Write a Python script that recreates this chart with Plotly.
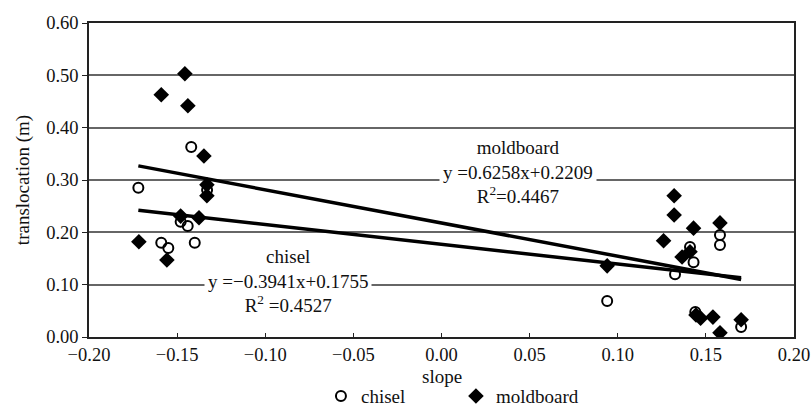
import plotly.graph_objects as go

# ---- data ----
chisel_x = [-0.172, -0.159, -0.155, -0.148, -0.144, -0.142, -0.140, -0.133,
            0.094, 0.1325, 0.141, 0.143, 0.158, 0.158, 0.144, 0.170]
chisel_y = [0.285, 0.180, 0.170, 0.220, 0.212, 0.363, 0.180, 0.281,
            0.069, 0.120, 0.172, 0.143, 0.195, 0.176, 0.048, 0.019]

moldboard_x = [-0.1717, -0.159, -0.1456, -0.1439, -0.1348, -0.1331, -0.1331, -0.148,
               -0.1376, -0.1558, 0.094, 0.126, 0.132, 0.132, 0.1365, 0.141,
               0.143, 0.158, 0.1444, 0.147, 0.154, 0.158, 0.170]
moldboard_y = [0.182, 0.463, 0.503, 0.442, 0.346, 0.291, 0.270, 0.231,
               0.228, 0.147, 0.136, 0.184, 0.270, 0.233, 0.153, 0.163,
               0.208, 0.218, 0.042, 0.036, 0.038, 0.008, 0.033]

# fitted trend lines (end points as drawn)
fit_x = [-0.172, 0.170]
chisel_fit_y = [0.242, 0.113]
moldboard_fit_y = [0.327, 0.110]

x_ticks = [-0.20, -0.15, -0.10, -0.05, 0.00, 0.05, 0.10, 0.15, 0.20]
y_ticks = [0.0, 0.1, 0.2, 0.3, 0.4, 0.5, 0.6]

x_title = "slope"
y_title = "translocation (m)"
chisel_label = "chisel<br>y =\u22120.3941x+0.1755<br>R<sup>2</sup> =0.4527"
moldboard_label = "moldboard<br>y =0.6258x+0.2209<br>R<sup>2</sup>=0.4467"

FONT = "Liberation Serif"
TXT = "#111"

fig = go.Figure()
fig.add_trace(go.Scatter(x=fit_x, y=moldboard_fit_y, mode="lines",
                         line=dict(color="black", width=3.5), showlegend=False, hoverinfo="skip"))
fig.add_trace(go.Scatter(x=fit_x, y=chisel_fit_y, mode="lines",
                         line=dict(color="black", width=3.5), showlegend=False, hoverinfo="skip"))
fig.add_trace(go.Scatter(x=chisel_x, y=chisel_y, mode="markers", name="chisel",
                         marker=dict(symbol="circle-open", size=10, color="black",
                                     line=dict(width=2, color="black"))))
fig.add_trace(go.Scatter(x=moldboard_x, y=moldboard_y, mode="markers", name="moldboard",
                         marker=dict(symbol="diamond", size=12, color="black")))

fig.add_annotation(x=0.0434, y=0.315, xref="x", yref="y", text=moldboard_label,
                   showarrow=False, bgcolor="white", borderpad=3,
                   font=dict(family=FONT, size=19, color=TXT))
fig.add_annotation(x=-0.087, y=0.107, xref="x", yref="y", text=chisel_label,
                   showarrow=False, bgcolor="white", borderpad=3,
                   font=dict(family=FONT, size=19, color=TXT))
# x-axis title placed below tick labels
fig.add_annotation(x=0.5, y=-0.127, xref="paper", yref="paper", text=x_title,
                   showarrow=False, yanchor="middle",
                   font=dict(family=FONT, size=19, color=TXT))

fig.update_layout(
    width=812, height=409,
    margin=dict(l=89, r=18, t=23, b=72),
    paper_bgcolor="white", plot_bgcolor="white",
    font=dict(family=FONT, size=19, color=TXT),
    showlegend=True,
    legend=dict(orientation="h", x=0.329, xanchor="left",
                yref="container", y=0.078, yanchor="top",
                entrywidth=90, itemwidth=30,
                font=dict(family=FONT, size=19, color=TXT)),
    xaxis=dict(range=[-0.2, 0.2], tickvals=x_ticks, tickformat=".2f",
               automargin=False,
               showgrid=False, zeroline=False,
               showline=True, linecolor="#222", linewidth=1.5, mirror=True,
               ticks="inside", ticklen=4, tickcolor="#222",
               tickfont=dict(family=FONT, size=18.5, color=TXT)),
    yaxis=dict(range=[0, 0.6], tickvals=y_ticks, tickformat=".2f",
               automargin=False,
               showgrid=True, gridcolor="#666", gridwidth=1.6, zeroline=False,
               showline=True, linecolor="#222", linewidth=1.5, mirror=True,
               ticks="outside", ticklen=5, tickcolor="#222",
               tickfont=dict(family=FONT, size=18.5, color=TXT),
               title=dict(text=y_title, standoff=12, font=dict(family=FONT, size=19))),
)

fig.write_html("out.html", config={"displayModeBar": False},
               post_script="document.body.style.margin='0';document.body.style.overflow='hidden';")
